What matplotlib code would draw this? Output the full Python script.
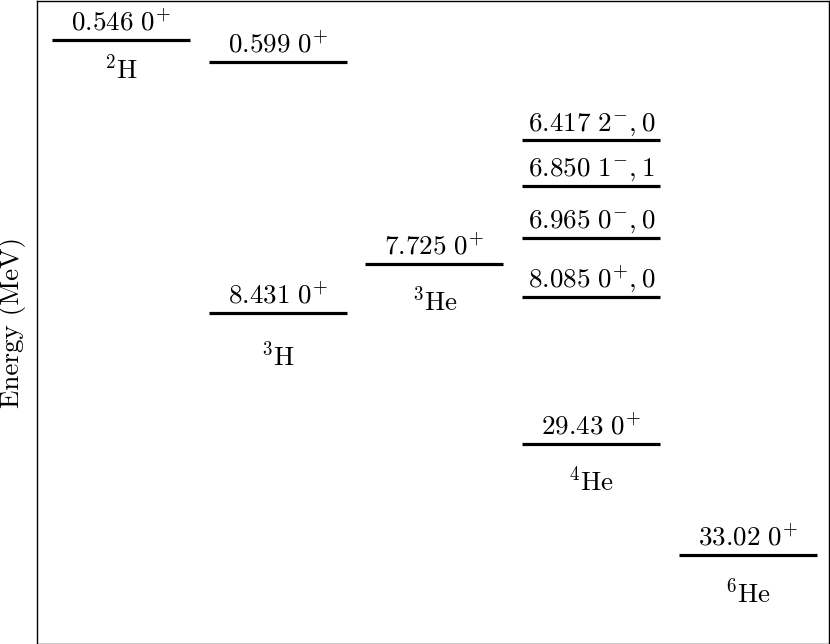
import matplotlib
matplotlib.use("Agg")
import matplotlib.pyplot as plt

plt.rcParams['font.family'] = 'serif'
plt.rcParams['font.serif'] = ['cmr10']
plt.rcParams['mathtext.fontset'] = 'cm'
plt.rcParams['axes.unicode_minus'] = False

# Nuclei (columns) and their label positions on the display axis
nuclei = [r"$^{2}$H", r"$^{3}$H", r"$^{3}$He", r"$^{4}$He", r"$^{6}$He"]
nucleus_label_pos = [2.31, 20.41, 16.94, 28.29, 35.35]

# Levels: column index, display position, energy text, spin/parity text
level_column = [0, 1, 1, 2, 3, 3, 3, 3, 3, 4]
level_pos = [0.546, 1.93, 17.76, 14.67, 6.85, 9.69, 12.97, 16.69, 26.02, 33.02]
level_energy = ["0.546", "0.599", "8.431", "7.725", "6.417", "6.850", "6.965",
                "8.085", "29.43", "33.02"]
level_jp = [r"0^{+}", r"0^{+}", r"0^{+}", r"0^{+}", r"2^{-}, 0", r"1^{-}, 1",
            r"0^{-}, 0", r"0^{+}, 0", r"0^{+}", r"0^{+}"]

fig = plt.figure(figsize=(8.3, 6.44), dpi=100)
ax = fig.add_axes([37 / 830, 0.5 / 644, 792 / 830, 643 / 644])

half = 0.44
for c, y, e, jp in zip(level_column, level_pos, level_energy, level_jp):
    ax.hlines(y, c - half, c + half, color='black', lw=2.3)
    ax.annotate(rf"${e}\ {jp}$", xy=(c, y), xytext=(0, 7.0),
                textcoords='offset points', ha='center', va='baseline',
                fontsize=19.5)

for i, (name, yp) in enumerate(zip(nuclei, nucleus_label_pos)):
    ax.text(i, yp, name, ha='center', va='center', fontsize=19.5)

ax.set_xlim(-0.535, 4.516)
ax.set_ylim(38.57, -1.976)
ax.set_xticks([])
ax.set_yticks([])
for s in ax.spines.values():
    s.set_linewidth(1.0)
ax.set_ylabel("Energy (MeV)", fontsize=19.5, labelpad=8)

fig.savefig("out.png", dpi=100)
